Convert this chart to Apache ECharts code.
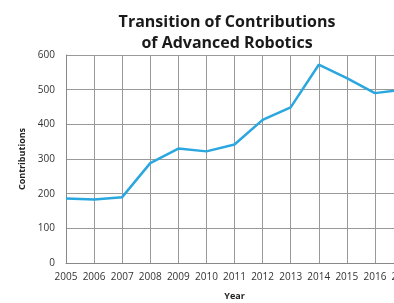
<!DOCTYPE html>
<html><head><meta charset="utf-8">
<script src="https://cdn.jsdelivr.net/npm/echarts@6/dist/echarts.min.js"></script>
<style>html,body{margin:0;padding:0;background:#fff}#c{width:394px;height:303px}</style>
</head><body><div id="c"></div>
<script>
const years = ['2005','2006','2007','2008','2009','2010','2011','2012','2013','2014','2015','2016','2017'];
const contributions = [186, 183, 190, 288, 330, 322, 342, 413, 449, 572, 533, 490, 500];
const yTicks = {min: 0, max: 600, interval: 100};
const chart = echarts.init(document.getElementById('c'));
chart.setOption({
  animation: false,
  backgroundColor: '#fff',
  title: {
    text: 'Transition of Contributions\nof Advanced Robotics',
    left: 222, top: 7, textAlign: 'center',
    textStyle: {fontFamily: 'Open Sans', fontWeight: 'bold', fontSize: 16, lineHeight: 21, color: '#1a1a1a'}
  },
  grid: {left: 66, top: 55, width: 337, height: 208, outerBoundsMode: 'none', containLabel: false},
  xAxis: {
    type: 'category', data: years, boundaryGap: false,
    name: 'Year', nameLocation: 'middle', nameGap: 29,
    nameTextStyle: {fontFamily: 'Open Sans', fontWeight: 'bold', fontSize: 9, color: '#222'},
    axisLine: {lineStyle: {color: '#888'}},
    axisTick: {show: false},
    axisLabel: {fontFamily: 'Open Sans', fontSize: 10, color: '#333', margin: 9, interval: 0, hideOverlap: false},
    splitLine: {show: true, lineStyle: {color: '#999', width: 1}}
  },
  yAxis: {
    type: 'value', min: yTicks.min, max: yTicks.max, interval: yTicks.interval,
    name: 'Contributions', nameLocation: 'middle', nameGap: 30,
    nameTextStyle: {fontFamily: 'Open Sans', fontWeight: 'bold', fontSize: 9, color: '#222'},
    axisLine: {show: true, lineStyle: {color: '#888'}},
    axisTick: {show: false},
    axisLabel: {fontFamily: 'Open Sans', fontSize: 10, color: '#333', margin: 11},
    splitLine: {show: true, lineStyle: {color: '#999', width: 1}}
  },
  series: [{
    type: 'line', data: contributions, symbol: 'none',
    lineStyle: {color: '#2aa7df', width: 2.5}
  }]
});
</script></body></html>
